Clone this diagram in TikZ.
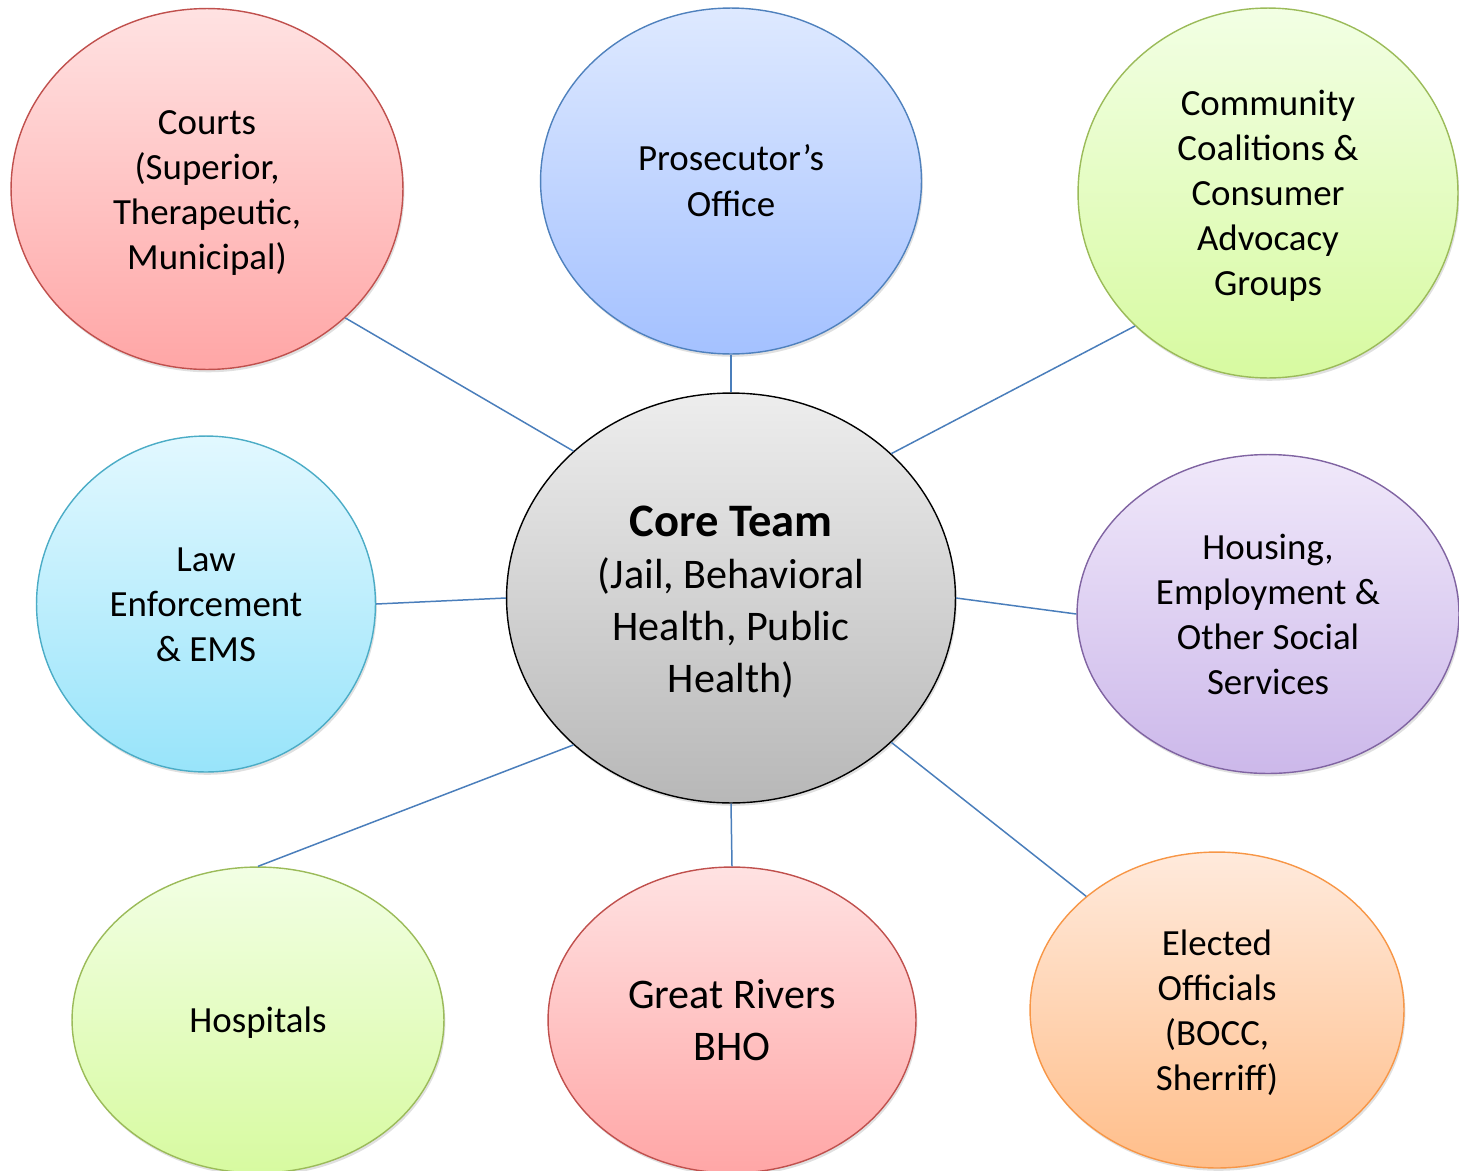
\documentclass[tikz,border=0pt]{standalone}
\usepackage{fontspec}
\setmainfont{Carlito}
\usetikzlibrary{shapes.geometric,shadows}
\definecolor{redline}{RGB}{192,80,77}
\definecolor{redtop}{RGB}{255,226,226}
\definecolor{redbot}{RGB}{255,166,166}
\definecolor{blueline}{RGB}{79,129,189}
\definecolor{bluetop}{RGB}{222,233,255}
\definecolor{bluebot}{RGB}{164,193,255}
\definecolor{greenline}{RGB}{155,187,89}
\definecolor{greentop}{RGB}{242,255,228}
\definecolor{greenbot}{RGB}{215,250,160}
\definecolor{aqualine}{RGB}{75,172,198}
\definecolor{aquatop}{RGB}{226,248,255}
\definecolor{aquabot}{RGB}{152,228,250}
\definecolor{violetline}{RGB}{128,100,162}
\definecolor{violettop}{RGB}{240,232,250}
\definecolor{violetbot}{RGB}{204,184,234}
\definecolor{orangeline}{RGB}{247,150,70}
\definecolor{orangetop}{RGB}{255,234,220}
\definecolor{orangebot}{RGB}{255,190,138}
\definecolor{linkblue}{RGB}{74,126,187}
% full line box of the font, so a block of lines centres like a text box
\newcommand{\ls}{\rule[-0.27em]{0pt}{1.22em}}

\begin{document}
\begin{tikzpicture}[
    x=0.02cm, y=-0.02cm,
    softshadow/.style={drop shadow={opacity=0.12, shadow xshift=0.8pt,
       shadow yshift=-1.6pt, fill=black}},
    party/.style={ellipse, line width=0.8pt, inner sep=0pt, align=center,
       font=\fontsize{21}{25.6}\selectfont, softshadow},
    tint/.style n args={3}{draw=#1, top color=#2, bottom color=#3},
    link/.style={draw=linkblue, line width=0.85pt}
  ]
    \useasboundingbox (0,0) rectangle (1459,1170);

    % Core team in the middle
    \node[party, tint={black}{black!7}{black!28}, minimum width=8.98cm,
      minimum height=8.2cm, font=\fontsize{24}{29.5}\selectfont]
      (core) at (731,598)
      {{\fontsize{26.5}{30}\selectfont\bfseries\ls Core Team}\\(Jail, Behavioral\\Health, Public\\Health)\ls};

    % Partners around it
    \node[party, tint={redline}{redtop}{redbot}, minimum width=7.84cm,
      minimum height=7.22cm] (courts) at (207,189)
      {\ls Courts\\(Superior,\\Therapeutic,\\Municipal)\ls};
    \node[party, tint={blueline}{bluetop}{bluebot}, minimum width=7.62cm,
      minimum height=6.92cm] (prosecutor) at (731,181)
      {\ls Prosecutor’s\\Office\ls};
    \node[party, tint={greenline}{greentop}{greenbot}, minimum width=7.6cm,
      minimum height=7.4cm] (community) at (1268,193)
      {\ls Community\\Coalitions \&\\Consumer\\Advocacy\\Groups\ls};
    \node[party, tint={aqualine}{aquatop}{aquabot}, minimum width=6.78cm,
      minimum height=6.72cm] (law) at (206,604)
      {\ls Law\\Enforcement\\\& EMS\ls};
    \node[party, tint={violetline}{violettop}{violetbot}, minimum width=7.64cm,
      minimum height=6.38cm] (housing) at (1268,614)
      {\ls Housing,\\Employment \&\\Other Social\\Services\ls};
    \node[party, tint={greenline}{greentop}{greenbot}, minimum width=7.44cm,
      minimum height=6.12cm] (hospitals) at (258,1020)
      {\ls Hospitals\ls};
    \node[party, tint={redline}{redtop}{redbot}, minimum width=7.36cm,
      minimum height=6.12cm, font=\fontsize{24}{29.5}\selectfont]
      (rivers) at (732,1020)
      {\ls Great Rivers\\BHO\ls};
    \node[party, tint={orangeline}{orangetop}{orangebot}, minimum width=7.48cm,
      minimum height=6.32cm] (elected) at (1217,1010)
      {\ls Elected\\Officials\\(BOCC,\\Sherriff)\ls};

    % Spokes to the core team
    \draw[link] (courts.-43)      -- (core.137);
    \draw[link] (prosecutor.south) -- (core.north);
    \draw[link] (community.-135)  -- (core.42);
    \draw[link] (law.east)        -- (core.west);
    \draw[link] (housing.west)    -- (core.east);
    \draw[link] (hospitals.north) -- (core.-137);
    \draw[link] (rivers.north)    -- (core.south);
    \draw[link] (elected.139)     -- (core.-42);
  \end{tikzpicture}
\end{document}
